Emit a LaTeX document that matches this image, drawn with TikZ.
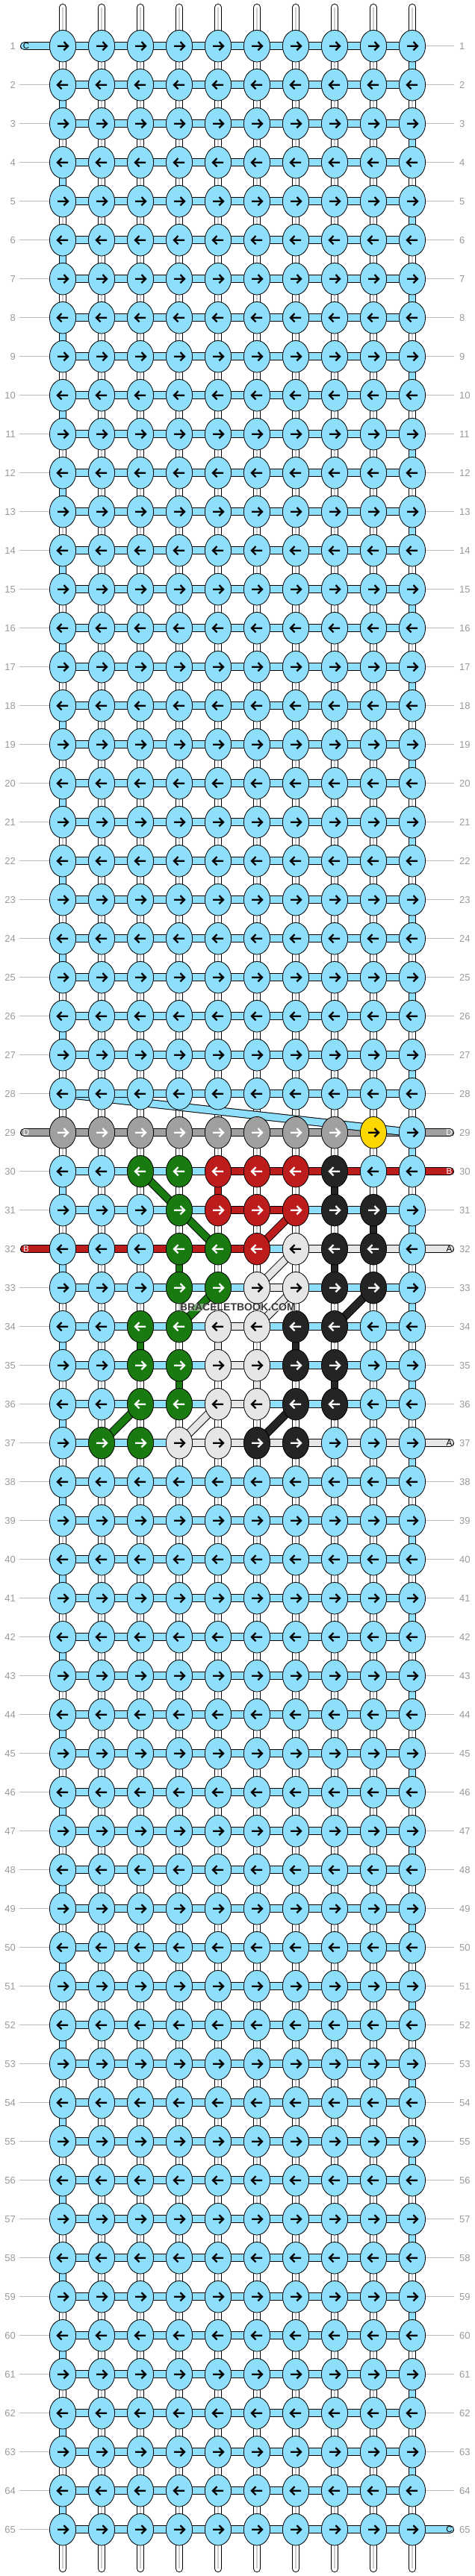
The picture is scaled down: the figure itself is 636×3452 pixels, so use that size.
\documentclass[tikz,border=0pt]{standalone}
\usepackage{fontspec}
\setmainfont{Liberation Sans}
\usetikzlibrary{shapes.geometric}

% thread colours (c..) and arrow colours on them (a..)
\definecolor{cb}{HTML}{8EDFFC}
\definecolor{cg}{HTML}{A0A0A0}
\definecolor{cy}{HTML}{FFD700}
\definecolor{cr}{HTML}{BD1C1C}
\definecolor{cn}{HTML}{197A10}
\definecolor{ck}{HTML}{242424}
\definecolor{cl}{HTML}{E6E6E6}
\colorlet{ab}{black}
\colorlet{ag}{white}
\colorlet{ay}{black}
\colorlet{ar}{white}
\colorlet{an}{white}
\colorlet{ak}{white}
\colorlet{al}{black}
\definecolor{rowgrey}{HTML}{9A9A9A}
\definecolor{linegrey}{HTML}{BDBDBD}
\definecolor{wmgrey}{HTML}{3A3A3A}

\tikzset{
  knotnode/.style={draw, ellipse, line width=0.8pt, minimum width=35.2pt, minimum height=42.6pt, inner sep=0pt},
  barout/.style={draw=black, line width=11.2pt},
  barin/.style={line width=9.2pt},
  tubeout/.style={draw=black, line width=10.3pt},
  tubein/.style={line width=8.3pt},
  arrowline/.style={line width=2.3pt, line cap=butt, line join=miter},
  rowlabel/.style={text=rowgrey, inner sep=0pt, font=\fontsize{13}{13}\selectfont},
  endletter/.style={inner sep=0pt, font=\fontsize{11.5}{11.5}\selectfont},
  labelline/.style={draw=linegrey, line width=0.8pt},
  wmark/.style={inner sep=0pt, font=\bfseries\fontsize{14}{14}\selectfont},
}

\begin{document}
\begin{tikzpicture}[x=1pt,y=-1pt]
\useasboundingbox (0,0) rectangle (636,3452);
\fill[white] (0,0) rectangle (636,3452);

% grid
\foreach \r in {1,...,65}{
  \foreach \c in {1,...,10}
    \coordinate (p-\r-\c) at ({84+52*(\c-1)},{61.7+52*(\r-1)});
  \coordinate (ll-\r) at (26,{61.7+52*(\r-1)});
  \coordinate (lr-\r) at (608,{61.7+52*(\r-1)});
  \coordinate (le-\r) at (32.6,{61.7+52*(\r-1)});
  \coordinate (re-\r) at (602.4,{61.7+52*(\r-1)});
}
\foreach \c in {1,...,10}{
  \coordinate (t-\c) at ({84+52*(\c-1)},10);
  \coordinate (b-\c) at ({84+52*(\c-1)},3442);
}

% vertical strings
\foreach \c in {1,...,10}{
  \path[tubeout, line cap=round] (t-\c) -- (b-\c);
  \path[draw=white, tubein, line cap=round] (t-\c) -- (b-\c);
  \path[draw=gray!40, line width=1.2pt] (t-\c) -- (b-\c);
}

% turns of the knotting thread
\foreach \r in {1,...,64}{
  \ifnum\r=28 \else
  \pgfmathtruncatemacro\tc{mod(\r,2)==1 ? 10 : 1}
  \pgfmathtruncatemacro\rn{\r+1}
  \path[tubeout] (p-\r-\tc) -- (p-\rn-\tc);
  \path[draw=cb, tubein] (p-\r-\tc) -- (p-\rn-\tc);
  \fi
}
\foreach \r/\c/\k in {30/5/r, 30/8/k, 31/9/k, 32/4/n, 32/8/k, 34/3/n, 34/5/l, 34/7/k, 35/4/n, 35/6/l, 35/8/k}{
  \pgfmathtruncatemacro\rn{\r+1}
  \path[tubeout] (p-\r-\c) -- (p-\rn-\c);
  \path[draw=c\k, tubein] (p-\r-\c) -- (p-\rn-\c);
}

% row number lines
\foreach \r in {2,...,28,30,31,33,34,...,65}
  \path[labelline] (ll-\r) -- (p-\r-1);
\foreach \r in {1,...,28,31,33,34,35,36,38,39,...,64}
  \path[labelline] (p-\r-10) -- (lr-\r);

% horizontal threads
\foreach \r in {1,...,65}{
  \foreach \c in {1,...,9}{
    \pgfmathtruncatemacro\cn{\c+1}
    \path[barout] (p-\r-\c) -- (p-\r-\cn);
    \path[draw=cb, barin] (p-\r-\c) -- (p-\r-\cn);
  }
}
\foreach \r/\segs in {29/{g,g,g,g,g,g,g,g,g}, 30/{b,b,b,b,r,r,r,r,r}, 31/{b,b,b,b,r,r,b,b,b},
                      32/{r,r,r,r,r,b,l,l,l}, 33/{b,b,b,b,b,l,b,b,b}, 34/{b,b,b,b,l,b,b,b,b},
                      35/{b,b,b,b,l,b,b,b,b}, 36/{b,b,b,b,l,b,b,b,b}, 37/{b,b,b,l,l,l,l,l,l}}{
  \foreach \k [count=\c] in \segs {
    \pgfmathtruncatemacro\cn{\c+1}
    \path[barout] (p-\r-\c) -- (p-\r-\cn);
    \path[draw=c\k, barin] (p-\r-\c) -- (p-\r-\cn);
  }
}

% loose ends
\foreach \r/\k/\lt in {1/b/C, 29/g/D, 32/r/B}{
  \path[barout, line cap=round] (le-\r) -- (p-\r-1);
  \path[draw=c\k, barin, line cap=round] (le-\r) -- (p-\r-1);
  \node[endletter, text=a\k] (el-\r) at ([xshift=2.4pt]le-\r) {\lt};
}
\foreach \r/\k/\lt in {29/g/D, 30/r/B, 32/l/A, 37/l/A, 65/b/C}{
  \path[barout, line cap=round] (p-\r-10) -- (re-\r);
  \path[draw=c\k, barin, line cap=round] (p-\r-10) -- (re-\r);
  \node[endletter, text=a\k] (er-\r) at ([xshift=-1pt]re-\r) {\lt};
}

% carried threads
\foreach \rA/\cA/\rB/\cB/\k in {28/1/29/10/b, 30/3/31/4/n, 31/4/32/5/n, 32/6/31/7/r, 32/7/33/6/l,
                                33/7/34/6/l, 33/5/34/4/n, 33/9/34/8/k, 36/3/37/2/n, 36/5/37/4/l, 36/7/37/6/k}{
  \path[barout] (p-\rA-\cA) -- (p-\rB-\cB);
  \path[draw=c\k, barin] (p-\rA-\cA) -- (p-\rB-\cB);
}
% row 28 lies over the carried blue thread
\foreach \c in {1,2,3}{
  \pgfmathtruncatemacro\cn{\c+1}
  \path[barout] (p-28-\c) -- (p-28-\cn);
  \path[draw=cb, barin] (p-28-\c) -- (p-28-\cn);
}

% knots
\foreach \r in {1,...,28,38,39,...,65}{
  \pgfmathtruncatemacro\dir{mod(\r,2)==1 ? 1 : -1}
  \foreach \c in {1,...,10}{
    \node[knotnode, fill=cb] (k-\r-\c) at (p-\r-\c) {};
    \path[draw=black, arrowline] (p-\r-\c) ++({-7*\dir},0) -- ++({14*\dir},0)
      ++({-5.5*\dir},-5.6) -- ++({5.5*\dir},5.6) -- ++({-5.5*\dir},5.6);
  }
}
\foreach \r/\knots in {29/{g,g,g,g,g,g,g,g,y,b}, 30/{b,b,n,n,r,r,r,k,b,b}, 31/{b,b,b,n,r,r,r,k,k,b},
                       32/{b,b,b,n,n,r,l,k,k,b}, 33/{b,b,b,n,n,l,l,k,k,b}, 34/{b,b,n,n,l,l,k,k,b,b},
                       35/{b,b,n,n,l,l,k,k,b,b}, 36/{b,b,n,n,l,l,k,k,b,b}, 37/{b,n,n,l,l,k,k,b,b,b}}{
  \pgfmathtruncatemacro\dir{mod(\r,2)==1 ? 1 : -1}
  \foreach \k [count=\c] in \knots {
    \node[knotnode, fill=c\k] (k-\r-\c) at (p-\r-\c) {};
    \path[draw=a\k, arrowline] (p-\r-\c) ++({-7*\dir},0) -- ++({14*\dir},0)
      ++({-5.5*\dir},-5.6) -- ++({5.5*\dir},5.6) -- ++({-5.5*\dir},5.6);
  }
}

% row numbers
\foreach \r in {1,...,65}{
  \node[rowlabel, anchor=east] (nl-\r) at ([xshift=-5pt]ll-\r) {\r};
  \node[rowlabel, anchor=west] (nr-\r) at ([xshift=7pt]lr-\r) {\r};
}

% watermark
\node[wmark, text=wmgrey, fill=white, fill opacity=0.45, text opacity=1] (wm) at (318.3,1751.7) {BRACELETBOOK.COM};
\end{tikzpicture}
\end{document}
